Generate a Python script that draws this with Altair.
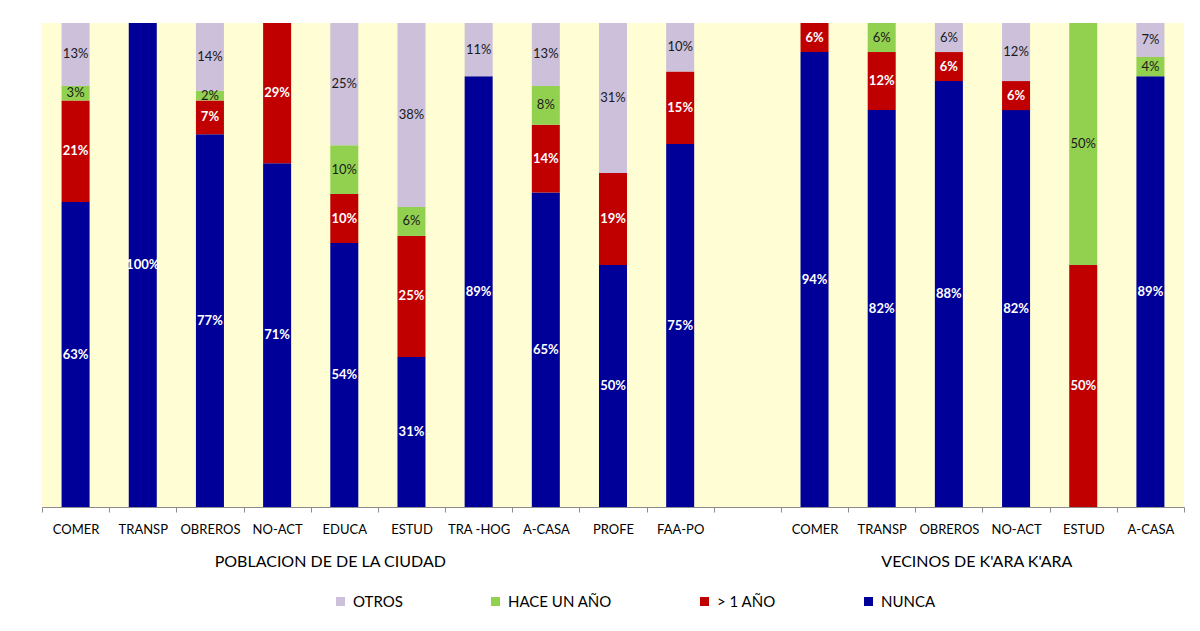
import altair as alt
import pandas as pd

# ---- data ----
series = ["NUNCA", "> 1 AÑO", "HACE UN AÑO", "OTROS"]
legend_order = ["OTROS", "HACE UN AÑO", "> 1 AÑO", "NUNCA"]
legend_colors = ["#CCC0DA", "#92D050", "#C00000", "#000099"]

city_cats = ["COMER", "TRANSP", "OBREROS", "NO-ACT", "EDUCA", "ESTUD",
             "TRA -HOG", "A-CASA", "PROFE", "FAA-PO"]
city_nunca = [63, 100, 77, 71, 54, 31, 89, 65, 50, 75]
city_mas1 = [21, 0, 7, 29, 10, 25, 0, 14, 19, 15]
city_hace = [3, 0, 2, 0, 10, 6, 0, 8, 0, 0]
city_otros = [13, 0, 14, 0, 25, 38, 11, 13, 31, 10]

vec_cats = ["COMER", "TRANSP", "OBREROS", "NO-ACT", "ESTUD", "A-CASA"]
vec_nunca = [94, 82, 88, 82, 0, 89]
vec_mas1 = [6, 12, 6, 6, 50, 0]
vec_hace = [0, 6, 0, 0, 50, 4]
vec_otros = [0, 0, 6, 12, 0, 7]

group_names = ["POBLACION DE  DE LA CIUDAD", "VECINOS DE K'ARA K'ARA"]

# unique category keys (second group carries a trailing space, gap is a blank)
gap_key = " "
vec_keys = [c + " " for c in vec_cats]
domain = city_cats + [gap_key] + vec_keys

rows = []
for cats, vals in ((city_cats, (city_nunca, city_mas1, city_hace, city_otros)),
                   (vec_keys, (vec_nunca, vec_mas1, vec_hace, vec_otros))):
    for i, c in enumerate(cats):
        for k, s in enumerate(series):
            rows.append({"cat": c, "series": s, "order": k, "value": vals[k][i]})
df = pd.DataFrame(rows)

FONT = "Lato"

xenc = alt.X(
    "cat:N",
    sort=domain,
    scale=alt.Scale(domain=domain, paddingInner=0, paddingOuter=0),
    axis=alt.Axis(
        title=None, labelAngle=0, tickBand="extent", labelExpr="trim(datum.label)",
        domainColor="#8C8C8C", tickColor="#8C8C8C", tickSize=5,
        labelFont=FONT, labelFontSize=13, labelColor="#000000", labelPadding=11,
        grid=False,
    ),
)

base = (
    alt.Chart(df)
    .transform_filter("datum.value > 0")
    .transform_joinaggregate(total="sum(value)", groupby=["cat"])
    .transform_calculate(pct="datum.value / datum.total")
    .transform_stack(stack="pct", groupby=["cat"], as_=["y0", "y1"],
                     sort=[alt.SortField("order", order="ascending")])
    .transform_calculate(mid="(datum.y0 + datum.y1) / 2", lbl="datum.value + '%'")
)

bars = base.mark_bar(width=alt.RelativeBandSize(0.417)).encode(
    x=xenc,
    y=alt.Y("y0:Q", scale=alt.Scale(domain=[0, 1]), axis=None),
    y2="y1:Q",
    color=alt.Color(
        "series:N",
        scale=alt.Scale(domain=legend_order, range=legend_colors),
        legend=alt.Legend(
            title=None, orient="none", legendX=291, legendY=571,
            direction="horizontal", columns=4, gridAlign="none", columnPadding=85,
            symbolType="square", symbolSize=81, symbolStrokeWidth=0,
            labelFont=FONT, labelFontSize=15, labelColor="#000000", labelOffset=5,
            padding=0,
        ),
    ),
)

txt_light = base.transform_filter(
    "datum.series == 'NUNCA' || datum.series == '> 1 AÑO'"
).mark_text(color="white", fontWeight="bold", font=FONT, fontSize=13).encode(
    x=alt.X("cat:N", sort=domain), y=alt.Y("mid:Q"), text="lbl:N"
)

txt_dark = base.transform_filter(
    "datum.series == 'HACE UN AÑO' || datum.series == 'OTROS'"
).mark_text(color="#1A1A1A", font=FONT, fontSize=13).encode(
    x=alt.X("cat:N", sort=domain), y=alt.Y("mid:Q"), text="lbl:N"
)

groups = pd.DataFrame({"cat": ["EDUCA", "OBREROS "], "name": group_names})
grp1 = alt.Chart(groups).transform_filter(alt.datum.cat == "EDUCA").mark_text(
    font=FONT, fontSize=16, color="#000000", dx=-14, baseline="alphabetic"
).encode(x=alt.X("cat:N", sort=domain), y=alt.value(544), text="name:N")
grp2 = alt.Chart(groups).transform_filter(alt.datum.cat == "OBREROS ").mark_text(
    font=FONT, fontSize=16, color="#000000", dx=28, baseline="alphabetic"
).encode(x=alt.X("cat:N", sort=domain), y=alt.value(544), text="name:N")

chart = (
    alt.layer(bars, txt_dark, txt_light, grp1, grp2)
    .properties(width=1142, height=484, background="white",
                padding={"left": 33, "top": 15, "right": 5, "bottom": 5})
    .configure_view(stroke=None, fill="#FFFDD3")
)

chart.save("out.html", embed_options={"renderer": "svg", "actions": False})
